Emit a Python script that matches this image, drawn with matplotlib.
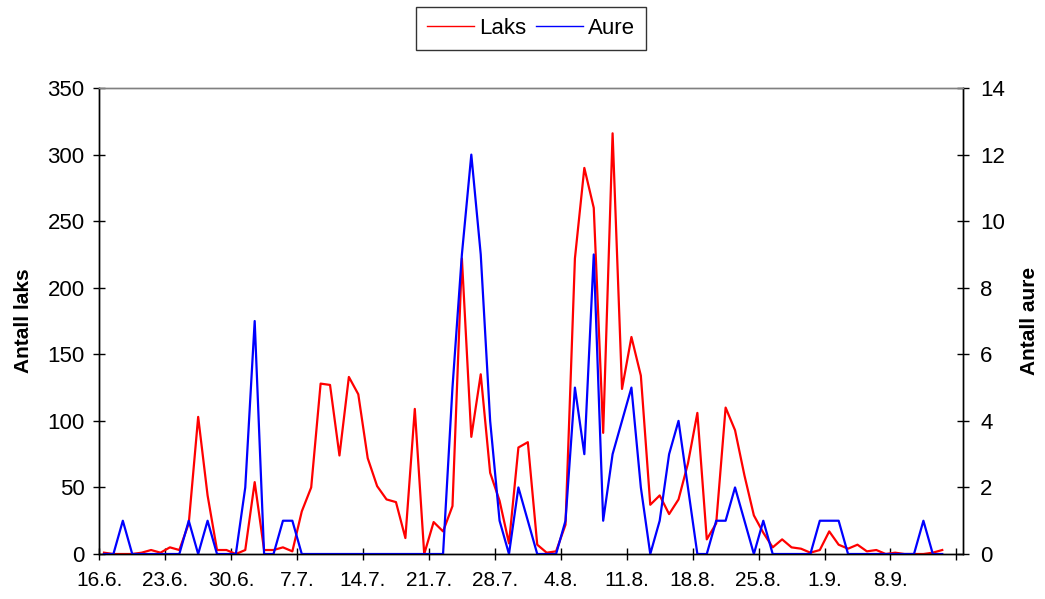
import matplotlib
matplotlib.use("Agg")
import matplotlib.pyplot as plt
import numpy as np

plt.rcParams['font.family'] = ['Liberation Sans', 'DejaVu Sans']

# daily counts, first value is 16.6., last is 13.9.
laks = [1, 0, 0, 0, 1, 3, 1, 5, 3, 23,
        103, 44, 3, 3, 0, 3, 54, 3, 3, 5,
        2, 32, 50, 128, 127, 74, 133, 120, 72, 51,
        41, 39, 12, 109, 0, 24, 17, 36, 222, 88,
        135, 61, 40, 8, 80, 84, 7, 1, 2, 22,
        222, 290, 260, 91, 316, 124, 163, 134, 37, 44,
        30, 41, 68, 106, 11, 23, 110, 93, 59, 29,
        16, 5, 11, 5, 4, 1, 3, 17, 7, 4,
        7, 2, 3, 0, 1, 0, 0, 0, 1, 3]
aure = [0, 0, 1, 0, 0, 0, 0, 0, 0, 1,
        0, 1, 0, 0, 0, 2, 7, 0, 0, 1,
        1, 0, 0, 0, 0, 0, 0, 0, 0, 0,
        0, 0, 0, 0, 0, 0, 0, 5, 9, 12,
        9, 4, 1, 0, 2, 1, 0, 0, 0, 1,
        5, 3, 9, 1, 3, 4, 5, 2, 0, 1,
        3, 4, 2, 0, 0, 1, 1, 2, 1, 0,
        1, 0, 0, 0, 0, 0, 1, 1, 1, 0,
        0, 0, 0, 0, 0, 0, 0, 1, 0, 0]
week_labels = ["16.6.", "23.6.", "30.6.", "7.7.", "14.7.", "21.7.", "28.7.",
               "4.8.", "11.8.", "18.8.", "25.8.", "1.9.", "8.9.", ""]

x = np.arange(len(laks)) + 0.5

fig = plt.figure(figsize=(10.45, 5.99), dpi=100)
ax1 = fig.add_axes([0.095, 0.0751, 0.8265, 0.7779])
ax2 = ax1.twinx()

l1, = ax1.plot(x, laks, color='#ff0000', lw=1.6)
l2, = ax2.plot(x, aure, color='#0000ff', lw=1.6)

ax1.set_xlim(0, 91.7)
ax1.set_ylim(0, 350)
ax2.set_ylim(0, 14)
ax1.set_xticks(np.arange(len(week_labels)) * 7)
ax1.set_xticklabels(week_labels)
ax1.set_yticks(np.arange(0, 351, 50))
ax2.set_yticks(np.arange(0, 15, 2))

for ax in (ax1, ax2):
    ax.tick_params(direction='inout', length=9, width=1, labelsize=16, colors='black')
    for s in ax.spines.values():
        s.set_linewidth(1)
    ax.spines['top'].set_color('#808080')
ax1.tick_params(axis='y', pad=6)
ax2.tick_params(axis='y', pad=8)
ax1.tick_params(axis='x', pad=8, labelsize=15)

ax1.set_ylabel('Antall laks', fontsize=15, fontweight='bold')
ax2.set_ylabel('Antall aure', fontsize=15, fontweight='bold')
ax1.yaxis.set_label_coords(-0.077, 0.5)
ax2.yaxis.set_label_coords(1.066, 0.5)

leg = fig.legend([l1, l2], ['Laks', 'Aure'], loc='center', bbox_to_anchor=(0.508, 0.952),
                 ncol=2, fontsize=16, frameon=True, fancybox=False, edgecolor='black',
                 handlelength=2.1, handletextpad=0.22, columnspacing=0.45, borderpad=0.5)
leg.get_frame().set_linewidth(1)
for h in leg.get_lines():
    h.set_linewidth(1)

fig.savefig('out.png', dpi=100)
